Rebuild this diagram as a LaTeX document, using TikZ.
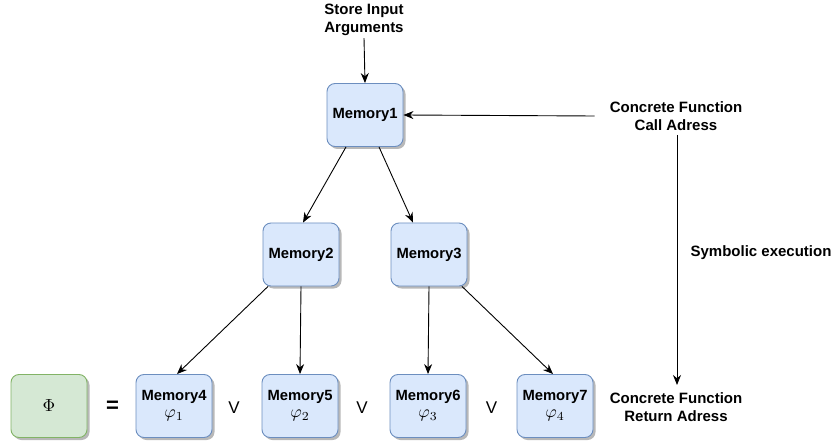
\documentclass[tikz,border=0pt]{standalone}
\usepackage{fontspec}
\setmainfont{Liberation Sans}
\usetikzlibrary{arrows.meta,shadows}
\definecolor{memfill}{HTML}{DAE8FC}
\definecolor{memline}{HTML}{6C8EBF}
\definecolor{phifill}{HTML}{D5E8D4}
\definecolor{philine}{HTML}{82B366}
% math symbols drawn at the size of the surrounding labels
\newcommand{\condtext}[1]{\scalebox{1.75}{\normalsize\mdseries$#1$}}
\tikzset{
  membox/.style={draw=memline, fill=memfill, line width=0.9pt, rounded corners=8pt,
    minimum width=76pt, minimum height=63pt, inner sep=0pt, align=center,
    font=\fontsize{14.8}{17}\selectfont\bfseries,
    drop shadow={shadow xshift=2.5pt, shadow yshift=-2.5pt, opacity=0.28, fill=black}},
  phibox/.style={membox, draw=philine, fill=phifill},
  lbl/.style={align=center, inner sep=0pt, font=\fontsize{15}{18}\selectfont\bfseries},
  orsym/.style={inner sep=0pt, font=\fontsize{17}{20}\selectfont},
  arr/.style={draw=black, line width=0.9pt, -{Stealth[length=10pt, width=8pt]}}
}
\begin{document}
\begin{tikzpicture}[x=1pt, y=-1pt]
  \useasboundingbox (0,0) rectangle (834,446);

  % tree of memory states
  \node[membox] (m1) at (365,115) {Memory1};
  \node[membox] (m2) at (301,254.5) {Memory2};
  \node[membox] (m3) at (429,254.5) {Memory3};
  \node[membox] (m4) at (174,406) {Memory4\\[0pt]\condtext{\varphi_1}};
  \node[membox] (m5) at (300,406) {Memory5\\[0pt]\condtext{\varphi_2}};
  \node[membox] (m6) at (428,406) {Memory6\\[0pt]\condtext{\varphi_3}};
  \node[membox] (m7) at (555,406) {Memory7\\[0pt]\condtext{\varphi_4}};

  % path condition as a disjunction
  \node[phibox] (phi) at (49,406) {\condtext{\Phi}};
  \node[inner sep=0pt, font=\fontsize{22}{24}\selectfont\bfseries] (eq) at (112.5,407) {=};
  \node[orsym] (or1) at (234,408) {V};
  \node[orsym] (or2) at (362,408) {V};
  \node[orsym] (or3) at (491.5,408) {V};

  % labels
  \node[lbl] (store) at (364,20) {Store Input\\Arguments};
  \node[lbl] (call) at (676,116) {Concrete Function\\Call Adress};
  \node[lbl] (ret) at (676,407) {Concrete Function\\Return Adress};
  \node[lbl] (sym) at (761,253) {Symbolic execution};

  \coordinate (vtop) at (677,135);
  \coordinate (vbot) at (677,385);

  % connectors
  \draw[arr] (store.south) ++(0,2) -- (m1.north);
  \draw[arr] (call.west) ++(-15,0) -- (m1.east);
  \draw[arr] (m1.south) ++(-19,0) -- ([xshift=2pt]m2.north);
  \draw[arr] (m1.south) ++(14,0) -- ([xshift=-16pt]m3.north);
  \draw[arr] (m2.south) ++(-33,0) -- ([xshift=3pt]m4.north);
  \draw[arr] (m2.south) -- (m5.north);
  \draw[arr] (m3.south) -- (m6.north);
  \draw[arr] (m3.south) ++(33,0) -- ([xshift=-2pt]m7.north);
  \draw[arr] (vtop) -- (vbot);
\end{tikzpicture}
\end{document}
